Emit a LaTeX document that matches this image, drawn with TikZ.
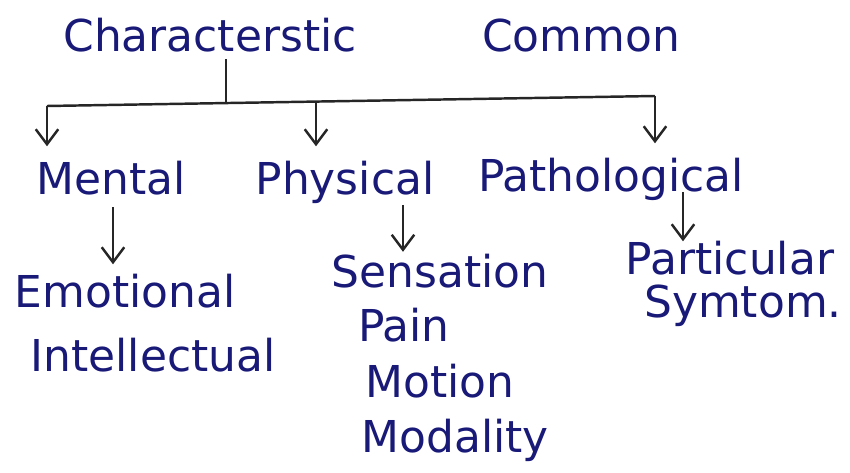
\documentclass[tikz,border=0pt]{standalone}
\usepackage{fontspec}
\setmainfont{DejaVu Sans}
\usetikzlibrary{arrows.meta}
\definecolor{ink}{RGB}{25,25,120}

\begin{document}
\begin{tikzpicture}[
    x=0.02cm, y=-0.02cm,
    word/.style={anchor=base, inner sep=0pt, text=ink, font=\fontsize{25}{30}\selectfont},
    line/.style={line width=1.4pt, black!85},
    arr/.style={line, -{Straight Barb[length=3mm, width=4.5mm]}}
]
    \useasboundingbox (0,0) rectangle (850,473);

    % Top level
    \node[word] (char) at (210,52) {Characterstic};
    \node[word] (common) at (581,52) {Common};

    % Second level
    \node[word] (mental) at (111,195) {Mental};
    \node[word] (physical) at (345,195) {Physical};
    \node[word] (patho) at (611,192) {Pathological};

    % Third level
    \node[word] (emotional) at (125,308) {Emotional};
    \node[word] (intellect) at (153,372) {Intellectual};
    \node[word] (sensation) at (440,288) {Sensation};
    \node[word] (pain) at (404,342) {Pain};
    \node[word] (motion) at (440,398) {Motion};
    \node[word] (modality) at (455,453) {Modality};
    \node[word] (particular) at (730,275) {Particular};
    \node[word] (symtom) at (743,317) {Symtom.};

    % Bar under "Characterstic"
    \coordinate (stem) at (226,103);
    \coordinate (bm) at (47,106);
    \coordinate (bp) at (316,101.5);
    \coordinate (bq) at (655,96);
    \draw[line, shorten <=1.5mm] (char.base -| stem) -- (stem);
    \draw[line] (bm) -- (bq);

    % Arrows from the bar
    \draw[arr, shorten >=3mm] (bm) -- (bm |- mental.north);
    \draw[arr, shorten >=3mm] (bp) -- (bp |- physical.north);
    \draw[arr, shorten >=3mm] (bq) -- (bq |- patho.north);

    % Arrows to the lists
    \coordinate (mx) at (113,0);
    \coordinate (px) at (403,0);
    \coordinate (qx) at (683,0);
    \draw[arr, shorten <=2.5mm, shorten >=2mm] (mental.base -| mx) -- (emotional.north -| mx);
    \draw[arr, shorten <=2mm, shorten >=0.5mm] (physical.base -| px) -- (sensation.north -| px);
    \draw[arr, shorten >=0mm] (patho.base -| qx) -- (particular.north -| qx);
\end{tikzpicture}
\end{document}
